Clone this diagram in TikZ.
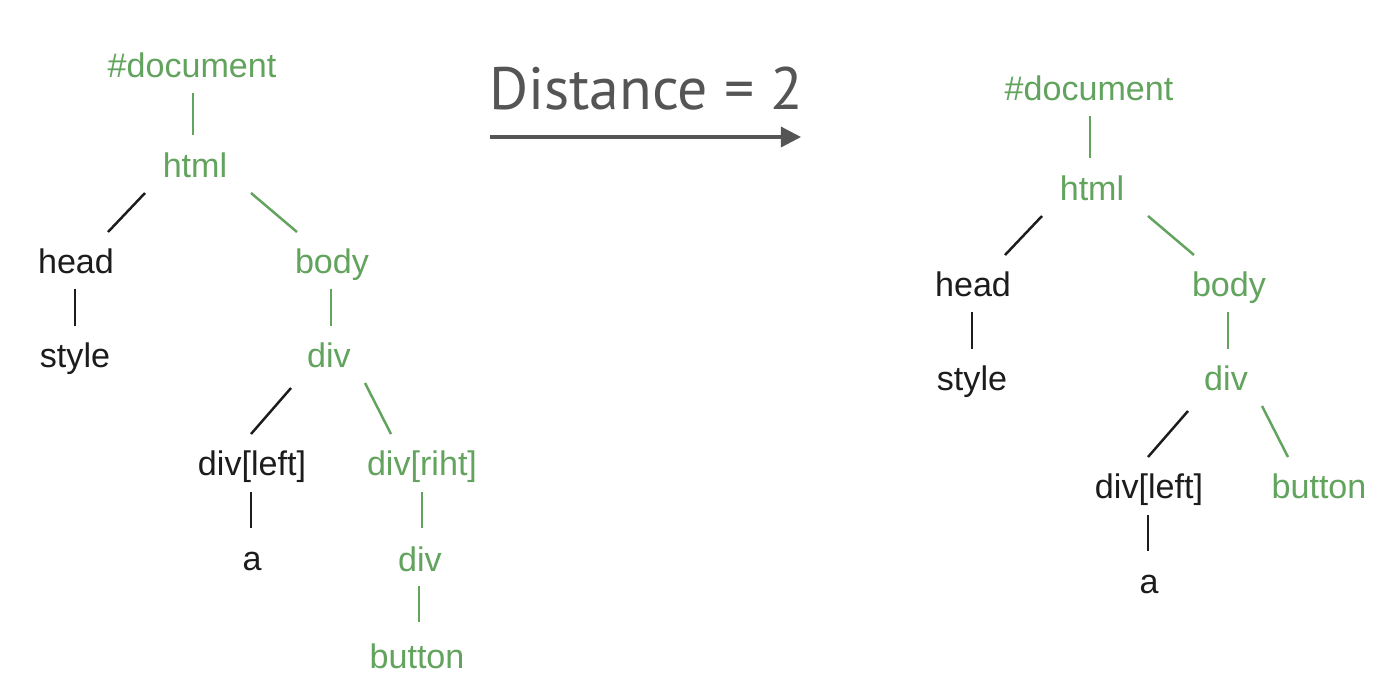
\documentclass[tikz,border=0pt]{standalone}
\usepackage{fontspec}
\setmainfont{Liberation Sans}
\newfontfamily\distfont{PT Sans}
\usetikzlibrary{arrows.meta}
\definecolor{domgreen}{HTML}{62A35E}
\definecolor{domblack}{HTML}{1C1C1C}
\definecolor{arrowgray}{HTML}{555555}
\tikzset{
  tag/.style={anchor=base, inner sep=0pt, font=\fontsize{9.7pt}{11pt}\selectfont, text=domblack},
  greentag/.style={tag, text=domgreen},
  edge/.style={draw=domblack, line width=0.7pt},
  greenedge/.style={draw=domgreen, line width=0.7pt},
}
\begin{document}
\begin{tikzpicture}[x=0.01cm,y=-0.01cm]
		\fill[white] (0,0) rectangle (1400,690);
		\useasboundingbox (0,0) rectangle (1400,690);

		% tree before
		\node[greentag] (ldoc) at (192,77) {\#document};
		\node[greentag] (lhtml) at (195,177) {html};
		\node[tag] (lhead) at (76,273) {head};
		\node[greentag] (lbody) at (332,273) {body};
		\node[tag] (lstyle) at (75,367) {style};
		\node[greentag] (ldiv) at (329,367) {div};
		\node[tag] (lleft) at (252,475) {div[left]};
		\node[greentag] (lriht) at (422,475) {div[riht]};
		\node[tag] (la) at (252,570) {a};
		\node[greentag] (ldivb) at (420,571) {div};
		\node[greentag] (lbutton) at (417,668) {button};

		\draw[greenedge] ([shift={(1,16)}]ldoc.base) -- ([shift={(-2,-42)}]lhtml.base);
		\draw[edge] ([shift={(-50,16)}]lhtml.base) -- ([shift={(32,-41)}]lhead.base);
		\draw[greenedge] ([shift={(56,16)}]lhtml.base) -- ([shift={(-35,-41)}]lbody.base);
		\draw[edge] ([shift={(-1,16)}]lhead.base) -- ([shift={(0,-41)}]lstyle.base);
		\draw[greenedge] ([shift={(-1,16)}]lbody.base) -- ([shift={(2,-41)}]ldiv.base);
		\draw[edge] ([shift={(-38,21)}]ldiv.base) -- ([shift={(-1,-41)}]lleft.base);
		\draw[greenedge] ([shift={(36,16)}]ldiv.base) -- ([shift={(-31,-41)}]lriht.base);
		\draw[edge] ([shift={(-1,17)}]lleft.base) -- ([shift={(-1,-42)}]la.base);
		\draw[greenedge] ([shift={(0,17)}]lriht.base) -- ([shift={(2,-43)}]ldivb.base);
		\draw[greenedge] ([shift={(-1,15)}]ldivb.base) -- ([shift={(2,-46)}]lbutton.base);

		% distance arrow
		\node[anchor=base, inner sep=0pt, text=arrowgray, font=\distfont\fontsize{17pt}{20pt}\selectfont] (dist) at (646,109) {Distance = 2};
		\coordinate (arrowtail) at (490,137);
		\coordinate (arrowtip) at (801,137);
		\draw[arrowgray, line width=0.9pt, -{Triangle[length=5.7pt,width=5.7pt]}] (arrowtail) -- (arrowtip);

		% tree after
		\node[greentag] (rdoc) at (1089,100) {\#document};
		\node[greentag] (rhtml) at (1092,200) {html};
		\node[tag] (rhead) at (973,296) {head};
		\node[greentag] (rbody) at (1229,296) {body};
		\node[tag] (rstyle) at (972,390) {style};
		\node[greentag] (rdiv) at (1226,390) {div};
		\node[tag] (rleft) at (1149,498) {div[left]};
		\node[greentag] (rbutton) at (1319,498) {button};
		\node[tag] (ra) at (1149,593) {a};

		\draw[greenedge] ([shift={(1,16)}]rdoc.base) -- ([shift={(-2,-42)}]rhtml.base);
		\draw[edge] ([shift={(-50,16)}]rhtml.base) -- ([shift={(32,-41)}]rhead.base);
		\draw[greenedge] ([shift={(56,16)}]rhtml.base) -- ([shift={(-35,-41)}]rbody.base);
		\draw[edge] ([shift={(-1,16)}]rhead.base) -- ([shift={(0,-41)}]rstyle.base);
		\draw[greenedge] ([shift={(-1,16)}]rbody.base) -- ([shift={(2,-41)}]rdiv.base);
		\draw[edge] ([shift={(-38,21)}]rdiv.base) -- ([shift={(-1,-41)}]rleft.base);
		\draw[greenedge] ([shift={(36,16)}]rdiv.base) -- ([shift={(-31,-41)}]rbutton.base);
		\draw[edge] ([shift={(-1,17)}]rleft.base) -- ([shift={(-1,-42)}]ra.base);
	\end{tikzpicture}
\end{document}
